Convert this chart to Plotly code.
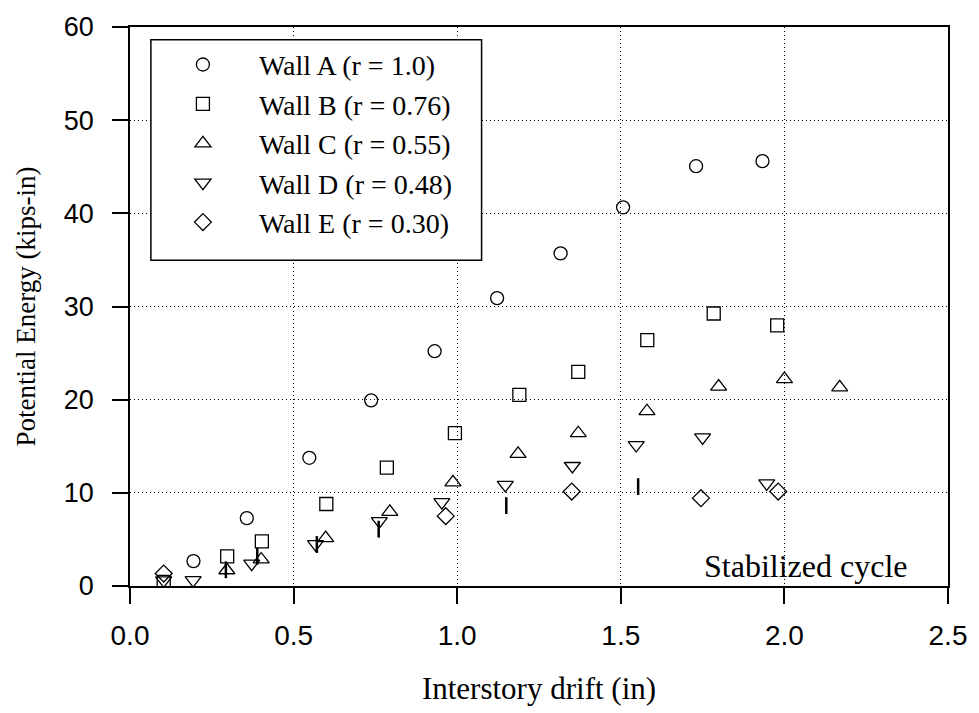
import plotly.graph_objects as go

# ---- data ----
wall_a_x = [0.194, 0.357, 0.548, 0.737, 0.931, 1.122, 1.316, 1.507, 1.730, 1.933]
wall_a_y = [2.67, 7.29, 13.76, 19.93, 25.2, 30.9, 35.7, 40.65, 45.06, 45.6]

wall_b_x = [0.103, 0.297, 0.403, 0.600, 0.785, 0.993, 1.190, 1.370, 1.581, 1.784, 1.978]
wall_b_y = [0.45, 3.17, 4.78, 8.80, 12.70, 16.40, 20.52, 22.99, 26.40, 29.25, 27.98]

wall_c_x = [0.296, 0.401, 0.598, 0.794, 0.987, 1.186, 1.370, 1.580, 1.799, 2.000, 2.169]
wall_c_y = [1.69, 2.85, 5.14, 7.95, 11.12, 14.18, 16.40, 18.76, 21.40, 22.2, 21.33]

wall_d_x = [0.103, 0.193, 0.372, 0.567, 0.762, 0.953, 1.147, 1.352, 1.547, 1.750, 1.946]
wall_d_y = [0.6, 0.63, 2.4, 4.5, 6.97, 9.0, 10.85, 12.88, 15.13, 15.95, 11.01]

wall_e_x = [0.103, 0.965, 1.350, 1.745, 1.981]
wall_e_y = [1.34, 7.5, 10.14, 9.43, 10.14]

# short vertical marks seen beside some Wall D points
marks_x = [0.293, 0.389, 0.571, 0.760, 1.150, 1.553]
marks_y = [1.74, 3.19, 4.45, 6.1, 8.63, 10.67]

series_names = ["Wall A (r = 1.0)", "Wall B (r = 0.76)", "Wall C (r = 0.55)",
                "Wall D (r = 0.48)", "Wall E (r = 0.30)"]
x_ticks = [0.0, 0.5, 1.0, 1.5, 2.0, 2.5]
x_tick_text = ["0.0", "0.5", "1.0", "1.5", "2.0", "2.5"]
y_ticks = [0, 10, 20, 30, 40, 50, 60]

SERIF = "Liberation Serif, Times New Roman, serif"
SANS = "Liberation Sans, Arial, sans-serif"

fig = go.Figure()
specs = [
    (wall_a_x, wall_a_y, "circle-open", 13),
    (wall_b_x, wall_b_y, "square-open", 13),
    (wall_c_x, wall_c_y, "triangle-up-open", 14),
    (wall_d_x, wall_d_y, "triangle-down-open", 14),
    (wall_e_x, wall_e_y, "diamond-open", 13),
]
for (xs, ys, sym, sz), name in zip(specs, series_names):
    fig.add_trace(go.Scatter(
        x=xs, y=ys, mode="markers", name=name,
        marker=dict(symbol=sym, size=sz, color="black",
                    line=dict(color="black", width=1.3)),
    ))

fig.add_trace(go.Scatter(
    x=marks_x, y=marks_y, mode="markers", showlegend=False, name="marks",
    marker=dict(symbol="line-ns", size=12, color="black",
                line=dict(color="black", width=2.5)),
))

axis_common = dict(
    showline=True, linecolor="black", linewidth=1.5, mirror=True,
    ticks="outside", ticklen=16, tickwidth=1.5, tickcolor="black",
    showgrid=True, gridcolor="black", gridwidth=1, griddash="1px,3px",
    zeroline=False,
)

fig.update_layout(
    width=979, height=713,
    margin=dict(l=130, r=27, t=18, b=127),
    plot_bgcolor="white", paper_bgcolor="white",
    showlegend=True,
    legend=dict(
        x=(147 - 130) / 822, xanchor="left",
        y=(586 - 31) / 568, yanchor="top",
        bgcolor="rgba(0,0,0,0)", borderwidth=0,
        font=dict(family=SERIF, size=28, color="black"),
        itemwidth=102, tracegroupgap=0,
    ),
    xaxis=dict(
        range=[0, 2.5], tickvals=x_ticks, ticktext=x_tick_text,
        tickfont=dict(family=SANS, size=28, color="black"),
        ticklabelstandoff=8,
        title=dict(text="Interstory drift (in)", standoff=27,
                   font=dict(family=SERIF, size=31, color="black")),
        **axis_common,
    ),
    yaxis=dict(
        range=[0, 60], tickvals=y_ticks,
        tickfont=dict(family=SANS, size=27, color="black"),
        ticklabelstandoff=13,
        title=dict(text="Potential Energy (kips-in)", standoff=20,
                   font=dict(family=SERIF, size=27, color="black")),
        **axis_common,
    ),
    shapes=[dict(
        type="rect", xref="paper", yref="paper",
        x0=(151 - 130) / 822, x1=(483.3 - 130) / 822,
        y0=(586 - 255) / 568, y1=(586 - 31) / 568,
        line=dict(color="black", width=1.5), fillcolor="white", layer="above",
    )],
    annotations=[dict(
        x=2.064, y=2.1, xref="x", yref="y", text="Stabilized cycle",
        showarrow=False, xanchor="center", yanchor="middle",
        font=dict(family=SERIF, size=32, color="black"),
    )],
)

fig.write_html("out.html")
